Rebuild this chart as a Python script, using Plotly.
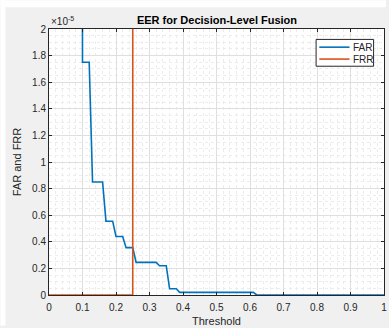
import plotly.graph_objects as go

# thresholds sampled every 0.01
threshold = [round(i * 0.01, 2) for i in range(101)]

# FAR in units of 1e-5 (values below 0.10 lie above the axis limit)
far_scaled = [
    100000, 60000, 30000, 12000, 5000, 2000, 800, 300, 120, 40,   # 0.00-0.09
    1.75, 1.75, 1.75, 0.85, 0.85, 0.85, 0.85, 0.555, 0.555, 0.555,  # 0.10-0.19
    0.44, 0.44, 0.44, 0.356, 0.356, 0.356, 0.245, 0.245, 0.245, 0.245,  # 0.20-0.29
    0.245, 0.245, 0.245, 0.22, 0.22, 0.22, 0.047, 0.047, 0.047, 0.02,  # 0.30-0.39
    0.02, 0.02, 0.02, 0.02, 0.02, 0.02, 0.02, 0.02, 0.02, 0.02,  # 0.40-0.49
    0.02, 0.02, 0.02, 0.02, 0.02, 0.02, 0.02, 0.02, 0.02, 0.02,  # 0.50-0.59
    0.02, 0.02, 0, 0, 0, 0, 0, 0, 0, 0,  # 0.60-0.69
    0, 0, 0, 0, 0, 0, 0, 0, 0, 0,  # 0.70-0.79
    0, 0, 0, 0, 0, 0, 0, 0, 0, 0,  # 0.80-0.89
    0, 0, 0, 0, 0, 0, 0, 0, 0, 0,  # 0.90-0.99
    0,  # 1.00
]

# FRR in units of 1e-5 (zero up to 0.25, then far above the axis limit)
frr_scaled = [0] * 26 + [
    2000, 2600, 3300, 4100, 5000, 6000, 7100, 8300, 9600, 11000,
    12500, 14100, 15800, 17600, 19500, 21500, 23600, 25800, 28100, 30500,
    33000, 35600, 38300, 41100, 44000, 47000, 50100, 53300, 56600, 60000,
    63500, 67100, 70800, 74600, 78500, 82500, 86600, 90800, 95100, 99500,
    104000, 108600, 113300, 118100, 123000, 128000, 133100, 138300, 143600, 149000,
    154500, 160100, 165800, 171600, 177500, 183500, 189600, 195800, 202100, 208500,
    215000, 221600, 228300, 235100, 242000, 249000, 256100, 263300, 270600, 278000,
    285500, 293100, 300800, 308600, 316500,
]

series_names = ["FAR", "FRR"]
series_colors = ["#0072BD", "#D95319"]

x_ticks = [round(i * 0.1, 1) for i in range(11)]
x_tick_labels = ["0", "0.1", "0.2", "0.3", "0.4", "0.5", "0.6", "0.7", "0.8", "0.9", "1"]
y_ticks_scaled = [0, 0.2, 0.4, 0.6, 0.8, 1.0, 1.2, 1.4, 1.6, 1.8, 2.0]
y_tick_labels = ["0", "0.2", "0.4", "0.6", "0.8", "1", "1.2", "1.4", "1.6", "1.8", "2"]

scale = 1e-5
far = [v * scale for v in far_scaled]
frr = [v * scale for v in frr_scaled]
y_ticks = [v * scale for v in y_ticks_scaled]

W, H = 389, 328
ML, MR, MT, MB = 49, 2, 29, 31
pw, ph = W - ML - MR, H - MT - MB

def px(xp):
    return (xp - ML) / pw

def py(yp):
    return (H - MB - yp) / ph

txt = "#262626"
font = "Liberation Sans, Arial, Helvetica, sans-serif"

fig = go.Figure()
for name, ys, col in zip(series_names, [far, frr], series_colors):
    fig.add_trace(go.Scatter(x=threshold, y=ys, mode="lines", name=name,
                             line=dict(color=col, width=1.6), showlegend=False))

axis_common = dict(
    showline=True, linecolor=txt, linewidth=1, mirror="allticks",
    ticks="inside", ticklen=3, tickcolor=txt, tickwidth=1,
    showgrid=True, gridcolor="#dfdfdf", gridwidth=1,
    zeroline=False, tickfont=dict(size=10, color=txt, family=font),
    ticklabeloverflow="allow",
)

shapes = [
    dict(type="rect", xref="paper", yref="paper", layer="below",
         x0=px(0), x1=px(W), y0=py(0), y1=py(7), fillcolor="white", line=dict(width=0)),
    dict(type="rect", xref="paper", yref="paper", layer="below",
         x0=px(0), x1=px(5), y0=py(0), y1=py(H), fillcolor="white", line=dict(width=0)),
    # legend box
    dict(type="rect", xref="paper", yref="paper", layer="above",
         x0=px(318.5), x1=px(376.5), y0=py(39.5), y1=py(66.5),
         fillcolor="white", line=dict(color=txt, width=1)),
]
annotations = [dict(text="×10<sup>-5</sup>", xref="paper", yref="paper",
                    x=px(49), y=py(29), xanchor="left", yanchor="bottom",
                    showarrow=False, font=dict(size=10, color=txt, family=font))]

row_y = [47.3, 59.3]
for name, col, ry in zip(series_names, series_colors, row_y):
    shapes.append(dict(type="line", xref="paper", yref="paper", layer="above",
                       x0=px(321.7), x1=px(352.2), y0=py(ry), y1=py(ry),
                       line=dict(color=col, width=1.6)))
    annotations.append(dict(text=name, xref="paper", yref="paper",
                            x=px(353.5), y=py(ry), xanchor="left", yanchor="middle",
                            borderpad=1, showarrow=False,
                            font=dict(size=10, color=txt, family=font)))

fig.update_layout(
    width=W, height=H,
    margin=dict(l=ML, r=MR, t=MT, b=MB),
    paper_bgcolor="#f0f0f0", plot_bgcolor="white",
    font=dict(family=font, color=txt),
    title=dict(text="<b>EER for Decision-Level Fusion</b>", x=px(218.5), xref="paper",
               xanchor="center", y=1 - 20.5 / H, yref="container", yanchor="middle",
               font=dict(size=11, color="#000000", family=font)),
    xaxis=dict(range=[0, 1], tickvals=x_ticks, ticktext=x_tick_labels,
               ticklabelstandoff=3,
               title=dict(text="Threshold", font=dict(size=11, color=txt), standoff=5),
               minor=dict(dtick=0.02, showgrid=True, gridcolor="#ececec", griddash="dot", ticks=""),
               **axis_common),
    yaxis=dict(range=[0, 2e-5], tickvals=y_ticks, ticktext=y_tick_labels,
               title=dict(text="FAR and FRR", font=dict(size=11, color=txt), standoff=8),
               minor=dict(dtick=0.05e-5, showgrid=True, gridcolor="#ececec", griddash="dot", ticks=""),
               **axis_common),
    showlegend=False,
    annotations=annotations,
    shapes=shapes,
)

fig.write_html("out.html")
